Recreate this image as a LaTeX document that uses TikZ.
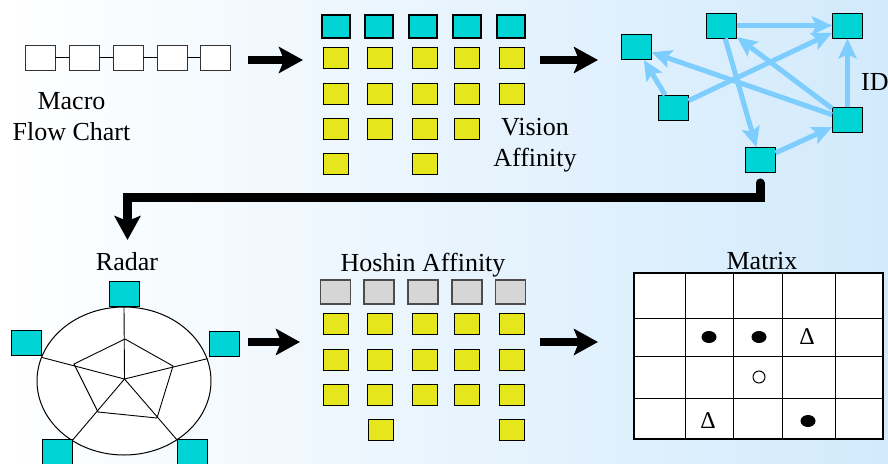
\documentclass[tikz,border=0pt]{standalone}
\usepackage{fontspec}
\setmainfont{Liberation Serif}
\usetikzlibrary{shapes.geometric}
\usetikzlibrary{arrows.meta}
\usetikzlibrary{positioning}

\definecolor{bgblue}{RGB}{210,234,252}
\definecolor{boxcyan}{RGB}{0,212,212}
\definecolor{boxyellow}{RGB}{230,230,28}
\definecolor{boxgray}{RGB}{214,214,214}
\definecolor{linkblue}{RGB}{125,205,255}

\begin{document}
\begin{tikzpicture}[
            x=1pt, y=-1pt,
            flowbox/.style={rectangle, draw=black!80, line width=0.9pt, fill=white, minimum width=30pt, minimum height=25pt, inner sep=0pt},
            topbox/.style={rectangle, draw, line width=2pt, fill=boxcyan, minimum width=28pt, minimum height=23pt, inner sep=0pt},
            card/.style={rectangle, draw, line width=0.9pt, fill=boxyellow, minimum width=25pt, minimum height=21pt, inner sep=0pt},
            graybox/.style={rectangle, draw=black!70, line width=1.2pt, fill=boxgray, minimum width=30pt, minimum height=24pt, inner sep=0pt},
            idbox/.style={rectangle, draw, line width=0.9pt, fill=boxcyan, minimum width=30pt, minimum height=25pt, inner sep=0pt},
            caption/.style={font=\fontsize{26}{31}\selectfont, align=center, inner sep=0pt},
            bigarrow/.style={line width=8pt, -{Stealth[length=24pt, width=26pt, inset=5pt]}},
            link/.style={line width=5pt, draw=linkblue, -{Stealth[length=20pt, width=18pt, inset=4pt]}},
            dot/.style={ellipse, fill=black, minimum width=15pt, minimum height=12pt, inner sep=0pt},
            ring/.style={circle, draw, line width=1pt, minimum size=12pt, inner sep=0pt},
            tri/.style={font=\fontsize{24}{24}\selectfont, inner sep=0pt}
        ]

        % Background
        \useasboundingbox (0,0) rectangle (888,463);
        \shade[left color=white, right color=bgblue] (0,0) rectangle (888,463);

        % Macro flow chart
        \node[flowbox] (m1) at (40,57.5) {};
        \node[flowbox] (m2) at (84,57.5) {};
        \node[flowbox] (m3) at (128,57.5) {};
        \node[flowbox] (m4) at (172,57.5) {};
        \node[flowbox] (m5) at (215,57.5) {};
        \draw (m1) -- (m2);
        \draw (m2) -- (m3);
        \draw (m3) -- (m4);
        \draw (m4) -- (m5);
        \node[caption, anchor=base] (macro) at (71.5,140) {Macro\\Flow Chart};

        % Vision affinity
        \node[topbox] (v1) at (335.5,26) {};
        \node[topbox] (v2) at (379,26) {};
        \node[topbox] (v3) at (423,26) {};
        \node[topbox] (v4) at (467,26) {};
        \node[topbox] (v5) at (510.5,26) {};
        \node[card] (va1) at (335.5,58) {};
        \node[card] (va2) at (380,58) {};
        \node[card] (va3) at (424.5,58) {};
        \node[card] (va4) at (466.5,58) {};
        \node[card] (va5) at (511.5,58) {};
        \node[card] (vb1) at (335.5,93.5) {};
        \node[card] (vb2) at (380,93.5) {};
        \node[card] (vb3) at (424.5,93.5) {};
        \node[card] (vb4) at (466.5,93.5) {};
        \node[card] (vb5) at (511.5,93.5) {};
        \node[card] (vc1) at (335.5,129) {};
        \node[card] (vc2) at (380,129) {};
        \node[card] (vc3) at (424.5,129) {};
        \node[card] (vc4) at (466.5,129) {};
        \node[card] (vd1) at (335.5,163.5) {};
        \node[card] (vd3) at (424.5,163.5) {};
        \node[caption, anchor=base] (vision) at (535,166) {Vision\\Affinity};

        % ID graph
        \node[idbox] (ida) at (721.5,25.5) {};
        \node[idbox] (idb) at (847.5,25.5) {};
        \node[idbox] (idc) at (636,47) {};
        \node[idbox] (idd) at (673,108) {};
        \node[idbox] (ide) at (847.5,120) {};
        \node[idbox] (idf) at (760,160) {};
        \node[caption, anchor=base west] (id) at (861,90) {ID};
        \draw[link] (ida) -- (idb);
        \draw[link] (ida) -- (idf);
        \draw[link] (idd) -- (idc);
        \draw[link] (idd) -- (idb);
        \draw[link] (ide) -- (idc);
        \draw[link] (ide) -- (ida);
        \draw[link] (ide) -- (idb);
        \draw[link] (idf) -- (ide);

        % Radar
        \node[caption, anchor=base] (radarlbl) at (127,270) {Radar};
        \node[ellipse, draw, line width=1pt, fill=white, minimum width=174pt, minimum height=148pt, inner sep=0pt] (radar) at (124,381) {};
        \coordinate (rc) at (124.5,379);
        \coordinate (p1) at (125,339);
        \coordinate (p2) at (173,366);
        \coordinate (p3) at (157,418);
        \coordinate (p4) at (98,412);
        \coordinate (p5) at (74,364);
        \draw[line width=0.9pt] (rc) -- (radar.90);
        \draw[line width=0.9pt] (rc) -- (radar.15.5);
        \draw[line width=0.9pt] (rc) -- (radar.164);
        \draw[line width=0.9pt] (rc) -- (radar.229);
        \draw[line width=0.9pt] (rc) -- (radar.312);
        \draw[line width=0.9pt] (p1) -- (p2) -- (p3) -- (p4) -- (p5) -- cycle;
        \node[idbox] (rt) at (124.5,294) {};
        \node[idbox] (rl) at (26.5,343) {};
        \node[idbox] (rr) at (224,344) {};
        \node[idbox] (rbl) at (57,452) {};
        \node[idbox] (rbr) at (192.5,452) {};

        % Hoshin affinity
        \node[caption, anchor=base] (hoshin) at (423,271) {Hoshin Affinity};
        \node[graybox] (h1) at (335.5,292) {};
        \node[graybox] (h2) at (379,292) {};
        \node[graybox] (h3) at (423,292) {};
        \node[graybox] (h4) at (467,292) {};
        \node[graybox] (h5) at (510.5,292) {};
        \node[card] (ha1) at (335.5,324) {};
        \node[card] (ha2) at (380,324) {};
        \node[card] (ha3) at (424.5,324) {};
        \node[card] (ha4) at (466.5,324) {};
        \node[card] (ha5) at (511.5,324) {};
        \node[card] (hb1) at (335.5,359.5) {};
        \node[card] (hb2) at (380,359.5) {};
        \node[card] (hb3) at (424.5,359.5) {};
        \node[card] (hb4) at (466.5,359.5) {};
        \node[card] (hb5) at (511.5,359.5) {};
        \node[card] (hc1) at (335.5,394.5) {};
        \node[card] (hc2) at (380,394.5) {};
        \node[card] (hc3) at (424.5,394.5) {};
        \node[card] (hc4) at (466.5,394.5) {};
        \node[card] (hc5) at (511.5,394.5) {};
        \node[card] (hd2) at (381,429.5) {};
        \node[card] (hd5) at (511.5,429.5) {};

        % Matrix
        \node[caption, anchor=base] (matlbl) at (762,269) {Matrix};
        \node[rectangle, draw, line width=1.2pt, fill=white, minimum width=249pt, minimum height=166pt, inner sep=0pt] (mat) at (758.5,356) {};
        \draw[line width=1pt] (685,273) -- (685,439);
        \draw[line width=1pt] (733,273) -- (733,439);
        \draw[line width=1pt] (782,273) -- (782,439);
        \draw[line width=1pt] (835,273) -- (835,439);
        \draw[line width=1pt] (634,318) -- (883,318);
        \draw[line width=1pt] (634,356) -- (883,356);
        \draw[line width=1pt] (634,398) -- (883,398);
        \node[dot] (s1) at (709,337) {};
        \node[dot] (s2) at (759,337) {};
        \node[tri] (s3) at (807,337) {Δ};
        \node[ring] (s4) at (759,377) {};
        \node[tri] (s5) at (708,421) {Δ};
        \node[dot] (s6) at (808,421) {};

        % Step arrows
        \coordinate (a1s) at (248,60);
        \coordinate (a1e) at (303,60);
        \coordinate (a2s) at (540,60);
        \coordinate (a2e) at (598,60);
        \coordinate (a3s) at (248,342);
        \coordinate (a3e) at (300,342);
        \coordinate (a4s) at (540,342);
        \coordinate (a4e) at (598,342);
        \coordinate (bendl) at (127.5,197);
        \coordinate (radarin) at (127.5,240);
        \draw[bigarrow] (a1s) -- (a1e);
        \draw[bigarrow] (a2s) -- (a2e);
        \draw[bigarrow] (a3s) -- (a3e);
        \draw[bigarrow] (a4s) -- (a4e);
        \draw[bigarrow, line width=9pt, line cap=round] ([yshift=-10pt]idf.south) |- (bendl) -- (radarin);

    \end{tikzpicture}
\end{document}
